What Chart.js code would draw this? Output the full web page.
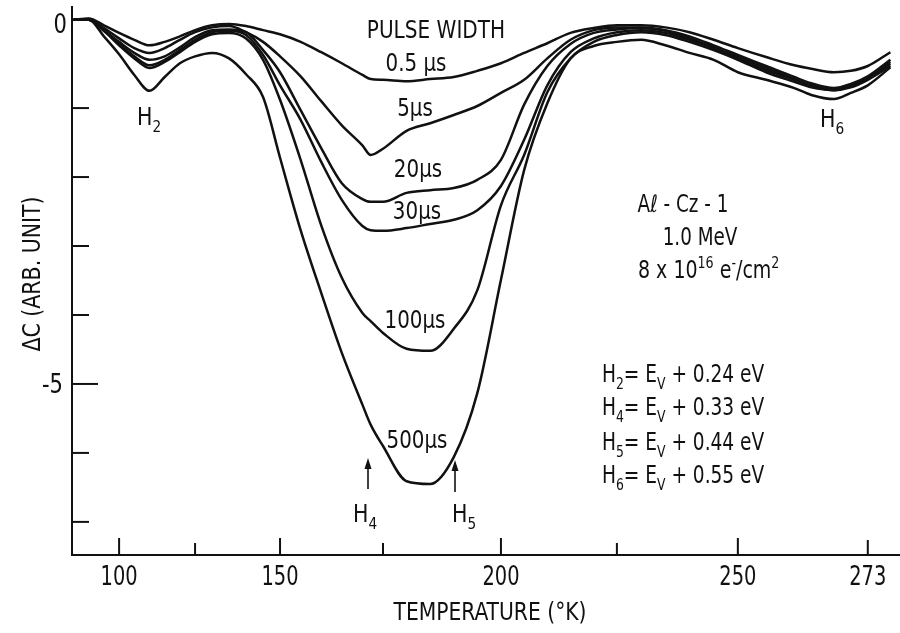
<!DOCTYPE html>
<html>
<head>
<meta charset="utf-8">
<script src="https://cdn.jsdelivr.net/npm/chart.js@4.4.1/dist/chart.umd.min.js"></script>
<style>
  html, body { margin: 0; padding: 0; background: #fff; }
</style>
</head>
<body>
<canvas id="myChart" width="900" height="633"></canvas>
<script>
// temperature (K) at which every trace is sampled
const temps = [85, 90, 95, 100, 105, 110, 115, 120, 125, 130, 135, 140, 145, 150, 155, 160, 165, 170, 172, 175,
  180, 185, 190, 195, 200, 205, 210, 215, 220, 225, 230, 235, 240, 245, 250, 255, 260, 263, 267, 270, 273, 277];

// delta C (arb. unit), one array per pulse width
const pulse05 = [0.28, 0.30, 0.20, 0.09, -0.01, -0.09, -0.04, 0.04, 0.13, 0.20, 0.22, 0.19, 0.13, 0.07, -0.04, -0.19, -0.35, -0.52, -0.58, -0.59,
  -0.61, -0.58, -0.55, -0.46, -0.35, -0.20, -0.06, 0.09, 0.16, 0.20, 0.20, 0.17, 0.10, -0.01, -0.13, -0.26, -0.38, -0.43, -0.48, -0.46, -0.39, -0.19];
const pulse5 = [0.28, 0.29, 0.16, 0.01, -0.13, -0.20, -0.13, -0.01, 0.10, 0.17, 0.19, 0.10, -0.04, -0.25, -0.54, -0.90, -1.25, -1.54, -1.68, -1.59,
  -1.33, -1.22, -1.10, -0.97, -0.78, -0.59, -0.28, -0.01, 0.13, 0.17, 0.17, 0.13, 0.04, -0.09, -0.23, -0.39, -0.55, -0.64, -0.71, -0.65, -0.54, -0.30];
const pulse20 = [0.28, 0.28, 0.13, -0.04, -0.20, -0.30, -0.25, -0.12, 0.03, 0.13, 0.14, 0.10, -0.16, -0.48, -1.03, -1.58, -2.09, -2.32, -2.36, -2.36,
  -2.23, -2.19, -2.16, -2.04, -1.75, -0.95, -0.39, -0.07, 0.09, 0.14, 0.16, 0.12, 0.01, -0.12, -0.26, -0.42, -0.58, -0.67, -0.72, -0.67, -0.55, -0.33];
const pulse30 = [0.28, 0.28, 0.12, -0.07, -0.25, -0.38, -0.30, -0.16, -0.01, 0.10, 0.12, 0.06, -0.23, -0.67, -1.17, -1.78, -2.33, -2.71, -2.77, -2.78,
  -2.74, -2.68, -2.62, -2.48, -2.13, -1.46, -0.67, -0.19, 0.01, 0.10, 0.13, 0.09, -0.01, -0.13, -0.28, -0.45, -0.59, -0.68, -0.74, -0.68, -0.57, -0.36];
const pulse100 = [0.28, 0.28, 0.12, -0.09, -0.28, -0.42, -0.33, -0.19, -0.04, 0.07, 0.09, 0.01, -0.30, -0.88, -1.75, -2.70, -3.46, -3.97, -4.09, -4.26,
  -4.49, -4.52, -4.20, -3.64, -2.41, -1.68, -0.77, -0.28, -0.04, 0.06, 0.10, 0.06, -0.04, -0.16, -0.30, -0.48, -0.62, -0.70, -0.74, -0.70, -0.59, -0.39];
const pulse500 = [0.28, 0.28, 0.04, -0.22, -0.52, -0.75, -0.55, -0.35, -0.25, -0.20, -0.28, -0.51, -0.84, -1.72, -2.77, -3.68, -4.55, -5.30, -5.59, -5.90,
  -6.41, -6.45, -6.06, -5.13, -3.49, -1.90, -0.93, -0.28, -0.10, -0.04, -0.01, -0.09, -0.20, -0.30, -0.48, -0.59, -0.71, -0.81, -0.87, -0.78, -0.67, -0.41];

const series = [pulse05, pulse5, pulse20, pulse30, pulse100, pulse500];
const seriesNames = ["0.5 µs", "5µs", "20µs", "30µs", "100µs", "500µs"];

// axis ticks
const xTicks = [100, 125, 150, 175, 200, 225, 250, 273];
const xTickLabels = ["100", "", "150", "", "200", "", "250", "273"];
const yTicks = [-1, -2, -3, -4, -5, -6, -7];
const yLabelValues = [0.22, -5];
const yLabelTexts = ["0", "-5"];

// the recorder's temperature axis is not linear: knots where the printed ticks sit
const xKnots = [100, 125, 150, 175, 200, 225, 250, 273];
const xKnotPos = [0, 76, 161, 264, 382, 498, 619, 749];

const INK = "#111";
const FONT = '"Liberation Sans Narrow", "DejaVu Sans Condensed", "Liberation Sans", sans-serif';

class WarpScale extends Chart.LinearScale {
  static id = "warp";
  warp(v) {
    let i = 0;
    while (i < xKnots.length - 2 && v > xKnots[i + 1]) i++;
    return xKnotPos[i] + (v - xKnots[i]) * (xKnotPos[i + 1] - xKnotPos[i]) / (xKnots[i + 1] - xKnots[i]);
  }
  unwarp(w) {
    let i = 0;
    while (i < xKnotPos.length - 2 && w > xKnotPos[i + 1]) i++;
    return xKnots[i] + (w - xKnotPos[i]) * (xKnots[i + 1] - xKnots[i]) / (xKnotPos[i + 1] - xKnotPos[i]);
  }
  getPixelForValue(value) {
    const a = this.warp(this.min), b = this.warp(this.max);
    return this.getPixelForDecimal((this.warp(value) - a) / (b - a));
  }
  getValueForPixel(pixel) {
    const a = this.warp(this.min), b = this.warp(this.max);
    return this.unwarp(a + this.getDecimalForPixel(pixel) * (b - a));
  }
}
Chart.register(WarpScale);

// draw text made of plain / subscript / superscript parts, squeezed by sx
function rich(ctx, parts, x, y, size, align, sx = 1) {
  const fontFor = k => (k ? Math.round(size * 0.68) : size) + "px " + FONT;
  const widths = parts.map(([t, k]) => { ctx.font = fontFor(k); return ctx.measureText(t).width * sx; });
  const total = widths.reduce((s, w) => s + w, 0);
  let cx = align === "center" ? x - total / 2 : align === "right" ? x - total : x;
  ctx.textAlign = "left";
  ctx.textBaseline = "alphabetic";
  parts.forEach(([t, k], i) => {
    ctx.font = fontFor(k);
    const dy = k === "sub" ? size * 0.28 : k === "sup" ? -size * 0.42 : 0;
    ctx.save();
    ctx.translate(cx, y + dy);
    ctx.scale(sx, 1);
    ctx.fillText(t, 0, 0);
    ctx.restore();
    cx += widths[i];
  });
}

function seg(ctx, x1, y1, x2, y2) {
  ctx.beginPath();
  ctx.moveTo(x1, y1);
  ctx.lineTo(x2, y2);
  ctx.stroke();
}

function arrowUp(ctx, x, yTip, yTail) {
  seg(ctx, x, yTail, x, yTip + 6);
  ctx.beginPath();
  ctx.moveTo(x, yTip);
  ctx.lineTo(x - 3.5, yTip + 11);
  ctx.lineTo(x + 3.5, yTip + 11);
  ctx.closePath();
  ctx.fill();
}

const figure = {
  id: "figure",
  afterDraw(chart) {
    const { ctx, chartArea: a } = chart;
    const x = chart.scales.x, y = chart.scales.y;
    ctx.save();
    ctx.strokeStyle = INK;
    ctx.fillStyle = INK;
    ctx.lineWidth = 2;
    ctx.lineCap = "butt";

    // axes
    seg(ctx, a.left, a.top, a.left, a.bottom + 1);
    seg(ctx, a.left - 1, a.bottom, a.right, a.bottom);

    // x ticks point up into the plot
    xTicks.forEach((t, i) => {
      const px = x.getPixelForValue(t);
      const len = t % 50 === 0 ? 17 : (xTickLabels[i] ? 15 : 12);
      seg(ctx, px, a.bottom, px, a.bottom - len);
      if (xTickLabels[i]) rich(ctx, [[xTickLabels[i], ""]], px, 585, 27, "center", 0.8);
    });

    // y ticks point right into the plot
    yTicks.forEach(v => {
      const py = y.getPixelForValue(v);
      seg(ctx, a.left, py, a.left + (v === -5 ? 26 : 17), py);
    });
    yLabelValues.forEach((v, i) => {
      const py = y.getPixelForValue(v);
      rich(ctx, [[yLabelTexts[i], ""]], i === 0 ? 67 : 63, py + 9, 26, "right", 0.9);
    });

    // axis titles
    rich(ctx, [["TEMPERATURE (°K)", ""]], 490, 620, 24, "center", 0.94);
    ctx.save();
    ctx.translate(40, 274);
    ctx.rotate(-Math.PI / 2);
    rich(ctx, [["ΔC (ARB. UNIT)", ""]], 0, 0, 24, "center", 0.95);
    ctx.restore();

    // trace labels
    rich(ctx, [["PULSE WIDTH", ""]], 436, 38, 24, "center", 0.93);
    const labelPos = [[416, 71], [415, 116], [418, 177], [417, 219], [415, 328], [417, 448]];
    seriesNames.forEach((n, i) => rich(ctx, [[n, ""]], labelPos[i][0], labelPos[i][1], 24, "center", 0.92));

    // level markers
    rich(ctx, [["H", ""], ["2", "sub"]], 137, 125, 24, "left", 0.95);
    rich(ctx, [["H", ""], ["6", "sub"]], 820, 127, 24, "left", 0.95);
    rich(ctx, [["H", ""], ["4", "sub"]], 353, 522, 24, "left", 0.95);
    rich(ctx, [["H", ""], ["5", "sub"]], 452, 522, 24, "left", 0.95);
    ctx.lineWidth = 1.6;
    arrowUp(ctx, 368, 458, 489);
    arrowUp(ctx, 455, 460, 492);

    // sample info
    rich(ctx, [["Aℓ - Cz - 1", ""]], 683, 212, 24, "center", 0.85);
    rich(ctx, [["1.0 MeV", ""]], 700, 245, 24, "center", 0.85);
    rich(ctx, [["8 x 10", ""], ["16", "sup"], [" e", ""], ["-", "sup"], ["/cm", ""], ["2", "sup"]], 638, 278, 24, "left", 0.88);

    // trap levels
    const lv = [["2", "0.24"], ["4", "0.33"], ["5", "0.44"], ["6", "0.55"]];
    const lvY = [382, 415, 450, 483];
    lv.forEach(([n, e], i) => {
      rich(ctx, [["H", ""], [n, "sub"], ["= ", ""], ["E", ""], ["V", "sub"], [" + " + e + " eV", ""]], 602, lvY[i], 24, "left", 0.86);
    });
    ctx.restore();
  }
};

new Chart(document.getElementById("myChart"), {
  type: "line",
  data: {
    datasets: series.map((s, k) => ({
      label: seriesNames[k],
      data: temps.map((t, i) => ({ x: t, y: s[i] })),
      borderColor: INK,
      borderWidth: 2.5,
      pointRadius: 0,
      cubicInterpolationMode: "monotone",
      fill: false,
    })),
  },
  options: {
    responsive: false,
    animation: false,
    devicePixelRatio: 1,
    layout: { padding: { left: 72, right: 0, top: 6, bottom: 78 } },
    plugins: { legend: { display: false }, tooltip: { enabled: false } },
    scales: {
      x: { type: "warp", min: 84.5, max: 278.7, display: false },
      y: { type: "linear", min: -7.48, max: 0.48, display: false },
    },
  },
  plugins: [figure],
});
</script>
</body>
</html>
